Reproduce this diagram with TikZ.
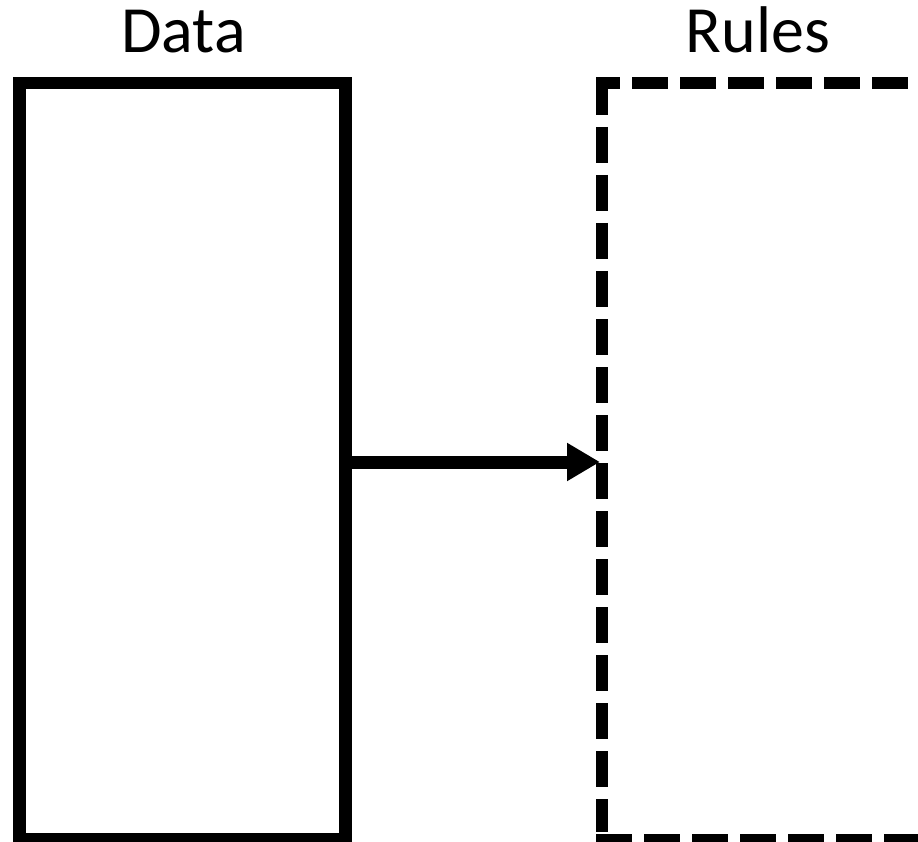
\documentclass[tikz,border=0pt]{standalone}
\usepackage{fontspec}
\setmainfont{Carlito}
\usetikzlibrary{arrows.meta}
\begin{document}
\begin{tikzpicture}[x=1pt,y=-1pt,
  boxline/.style={line width=12.5pt, line cap=butt, line join=miter},
  dashline/.style={line width=12pt, line cap=butt, dash pattern=on 36pt off 12pt},
  title/.style={font=\fontsize{66}{78}\selectfont, inner sep=0pt, anchor=base}]
\useasboundingbox (0,0) rectangle (918,842);
\clip (0,0) rectangle (918,842);
\fill[white] (0,0) rectangle (918,842);
% titles
\node[title] (datat) at (183.5,53) {Data};
\node[title] (rulest) at (758,53) {Rules};
% data box
\node[boxline, draw, minimum width=326pt, minimum height=756.5pt, inner sep=0pt, outer sep=0pt, anchor=north west] (data) at (19.5,83) {};
% rules box (dashed, extends past right edge)
\coordinate (rtl) at (602,83);
\coordinate (rbl) at (602,839.5);
\coordinate (rtr) at (940,83);
\coordinate (rbr) at (940,839.5);
\draw[dashline, dash phase=12pt] ([xshift=-6pt]rtl) -- (rtr);
\draw[dashline, dash phase=10pt] ([yshift=-6pt]rtl) -- ([yshift=8pt]rbl);
\draw[dashline] ([xshift=-6pt]rbl) -- (rbr);
% arrow
\coordinate (tip) at (600,462);
\draw[line width=13pt, -{Triangle[length=33pt,width=36pt]}] (data.east |- tip) -- (tip);
\end{tikzpicture}
\end{document}
